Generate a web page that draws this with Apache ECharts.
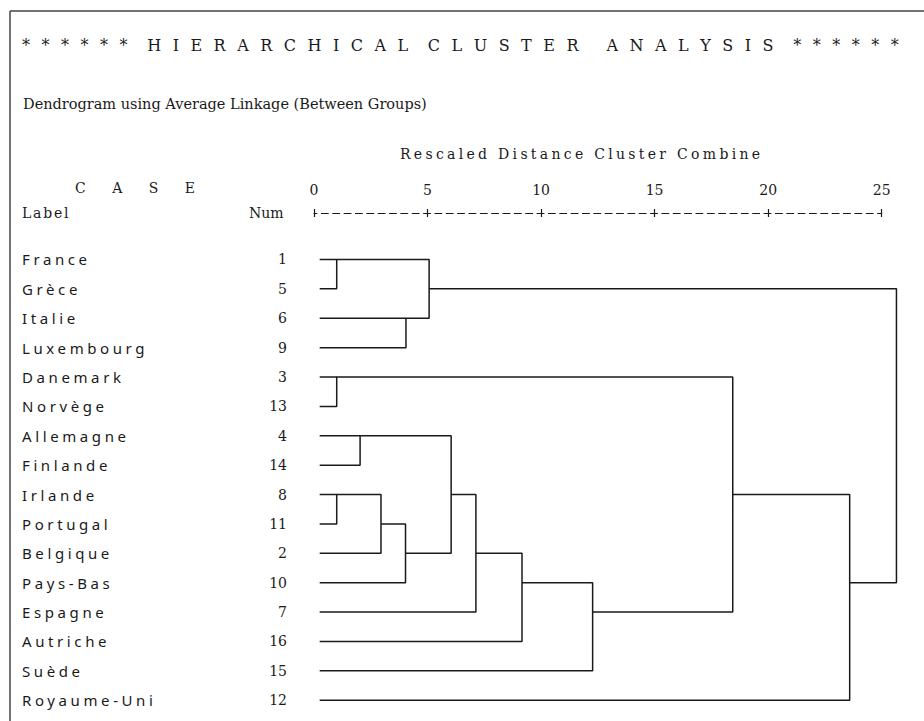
<!DOCTYPE html>
<html><head><meta charset="utf-8">
<script src="https://cdn.jsdelivr.net/npm/echarts@6/dist/echarts.min.js"></script>
<style>
html,body{margin:0;padding:0;background:#fff}
#main{width:924px;height:721px}
#main text[style*="Noto Sans"]{letter-spacing:3.6px}
#main text[style*="spTitle"]{letter-spacing:3.2px}
#main text[style*="spAxis"]{letter-spacing:3.3px}
#main text[style*="spCase"]{letter-spacing:11px}
#main text[style*="spLabel"]{letter-spacing:1.8px}
</style>
</head><body><div id="main"></div>
<script>
// ---- data ----
const caseLabels = ['France','Grèce','Italie','Luxembourg','Danemark','Norvège','Allemagne','Finlande','Irlande','Portugal','Belgique','Pays-Bas','Espagne','Autriche','Suède','Royaume-Uni'];
const caseNums = ['1','5','6','9','3','13','4','14','8','11','2','10','7','16','15','12'];
const distTicks = [0, 5, 10, 15, 20, 25];
// agglomeration steps: the two joined rows, rescaled distance, row where the merged cluster continues
const mergeRowA = [0, 4, 8, 6, 8, 9, 2, 0, 6, 8, 10, 11, 4, 8, 1];
const mergeRowB = [1, 5, 9, 7, 10, 11, 3, 2, 10, 12, 13, 14, 12, 15, 11];
const mergeDist = [1.0, 1.0, 1.0, 2.03, 2.95, 4.03, 4.05, 5.07, 6.04, 7.13, 9.16, 12.27, 18.44, 23.59, 25.65];
const mergeOutRow = [0, 4, 8, 6, 9, 10, 2, 1, 8, 10, 11, 12, 8, 11, null];
const leafStart = 0.25;

const titleText = '* * * * * *  H I E R A R C H I C A L  C L U S T E R   A N A L Y S I S  * * * * * *';
const subtitleText = 'Dendrogram using Average Linkage (Between Groups)';
const axisTitle = 'Rescaled Distance Cluster Combine';

// ---- build ----
const rowStart = caseLabels.map(() => leafStart);
const lineSeries = mergeDist.map((d, i) => {
  const a = mergeRowA[i], b = mergeRowB[i];
  const pts = [[rowStart[a], a], [d, a], [d, b], [rowStart[b], b]];
  if (mergeOutRow[i] !== null) rowStart[mergeOutRow[i]] = d;
  return {
    type: 'line', data: pts, symbol: 'none', clip: false, silent: true,
    lineStyle: { color: '#1a1a1a', width: 1.5 }
  };
});

const serif = 'DejaVu Serif';
const ink = '#1a1a1a';
const chart = echarts.init(document.getElementById('main'), null, { renderer: 'svg' });
const gridTop = 244.8, rowH = 29.38;
chart.setOption({
  animation: false,
  backgroundColor: '#fff',
  grid: { left: 314, right: 42.3, top: gridTop, height: rowH * caseLabels.length },
  xAxis: [{
    type: 'value', min: 0, max: 25, interval: 5, position: 'top', offset: gridTop - 213,
    axisLine: { show: true, lineStyle: { color: ink, width: 1, type: [7, 4.35], dashOffset: 3.5 } },
    axisTick: { show: true, length: 4, lineStyle: { color: ink, width: 1.2 } },
    axisLabel: { color: ink, fontFamily: serif, fontSize: 14, margin: 16,
      formatter: v => distTicks.includes(v) ? String(v) : '' },
    splitLine: { show: false }
  }, {
    type: 'value', min: 0, max: 25, interval: 5, position: 'top', offset: gridTop - 213,
    axisLine: { show: false },
    axisTick: { show: true, inside: true, length: 4, lineStyle: { color: ink, width: 1.2 } },
    axisLabel: { show: false }, splitLine: { show: false }
  }],
  yAxis: [{
    type: 'category', inverse: true, data: caseLabels, position: 'left',
    axisLine: { show: false }, axisTick: { show: false },
    axisLabel: { align: 'left', margin: 314 - 22, color: ink, fontFamily: 'Noto Sans', fontSize: 15 }
  }, {
    type: 'category', inverse: true, data: caseNums, position: 'left',
    axisLine: { show: false }, axisTick: { show: false },
    axisLabel: { align: 'right', margin: 27, color: ink, fontFamily: serif, fontSize: 14 }
  }],
  series: lineSeries,
  graphic: [
    { type: 'line', shape: { x1: 10, y1: 11, x2: 924, y2: 11 }, style: { stroke: '#444', lineWidth: 1.5 }, silent: true },
    { type: 'line', shape: { x1: 10, y1: 11, x2: 10, y2: 721 }, style: { stroke: '#444', lineWidth: 1.5 }, silent: true },
    { type: 'text', left: 22, top: 37, style: { text: titleText, fill: ink, font: '16px "DejaVu Serif", spTitle' } },
    { type: 'text', left: 23, top: 96, style: { text: subtitleText, fill: ink, font: '14.5px "DejaVu Serif"' } },
    { type: 'text', left: 400, top: 147, style: { text: axisTitle, fill: ink, font: '14px "DejaVu Serif", spAxis' } },
    { type: 'text', left: 75, top: 181, style: { text: 'C A S E', fill: ink, font: '14px "DejaVu Serif", spCase' } },
    { type: 'text', left: 22, top: 206, style: { text: 'Label', fill: ink, font: '14px "DejaVu Serif", spLabel' } },
    { type: 'text', left: 249, top: 206, style: { text: 'Num', fill: ink, font: '14px "DejaVu Serif"' } }
  ]
});
</script></body></html>
